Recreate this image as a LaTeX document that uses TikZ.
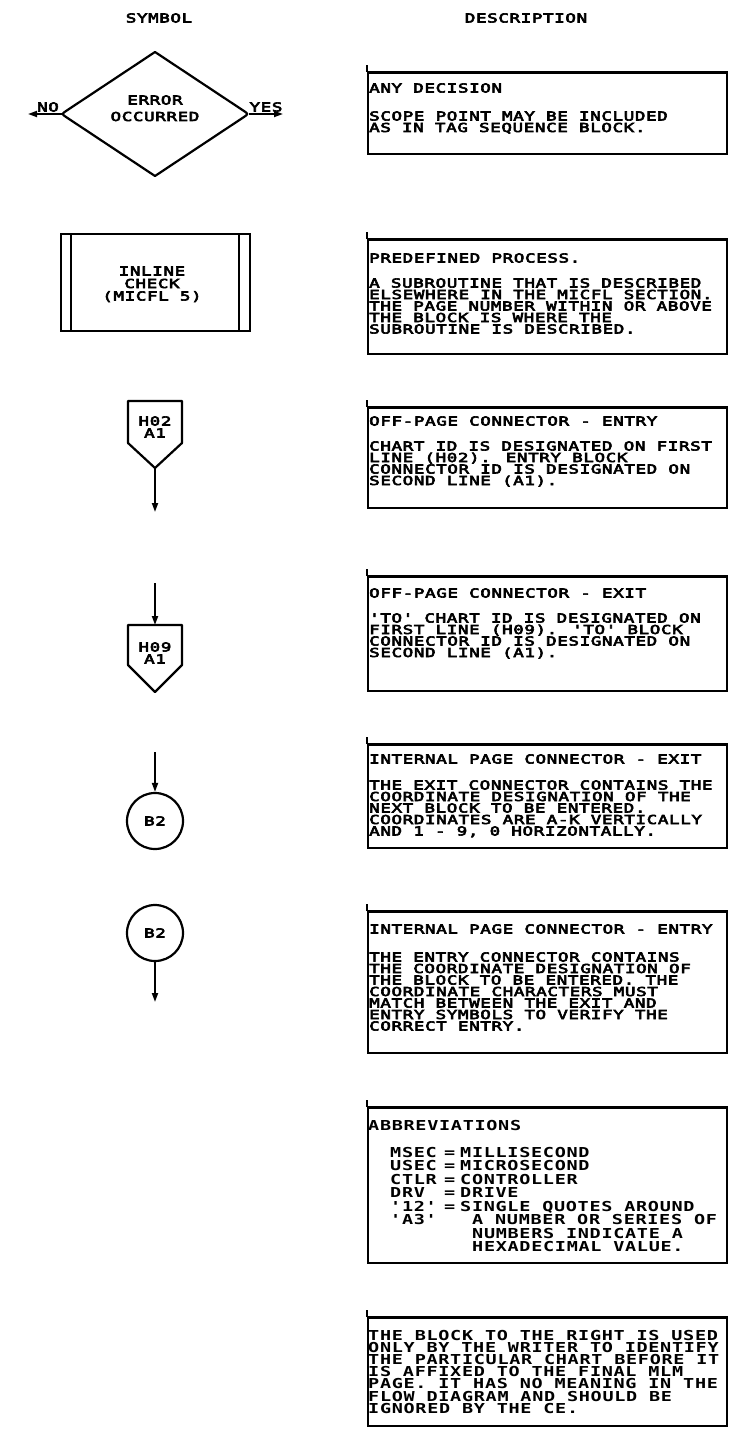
\documentclass[tikz,border=0pt]{standalone}
\usepackage{fontspec}
\usetikzlibrary{arrows.meta,shapes.geometric}
% fixed-pitch lettering, widened to the chart's letter pitch
\newfontfamily\chartfont{DejaVu Sans Mono}[FakeStretch=1.42, LetterSpace=5, FakeBold=5]
\newfontfamily\notefont{DejaVu Sans Mono}[FakeStretch=1.35, LetterSpace=5]

\tikzset{
  lbl/.style={font=\chartfont\fontsize{12.35pt}{13pt}\selectfont, inner sep=0pt, anchor=base},
  txt/.style={lbl, anchor=base west},
  note/.style={font=\notefont\bfseries\fontsize{13.7pt}{14pt}\selectfont, inner sep=0pt, anchor=base west},
  sym/.style={draw, line width=2.2pt},
  flow/.style={line width=1.8pt, -{Triangle[length=9pt,width=6pt]}},
  frame/.style={draw, line width=1.8pt, rectangle, inner sep=0pt, minimum width=359pt, anchor=north west},
  topbar/.style={line width=2.6pt},
}

% one line of description text, given by its baseline
\newcommand\dline[3]{\node[txt] (#1) at (369,#2) {#3};}
\newcommand\nline[3]{\node[note] (#1) at (368,#2) {#3};}
% a description frame: name, top, height
\newcommand\dframe[3]{%
  \node[frame, minimum height=#3pt] (#1) at (367,#2) {};
  \draw[topbar] (#1.north west) -- (#1.north east);
  \draw[line width=1.8pt] (#1.north west) -- ++(0,-7);
}

\begin{document}
\begin{tikzpicture}[x=1pt,y=-1pt]
\useasboundingbox[fill=white] (0,0) rectangle (735,1434);

% column headings
\node[lbl] (hsym) at (159,22.5) {SYMBOL};
\node[lbl] (hdesc) at (526,22.5) {DESCRIPTION};

% ---------------- decision ----------------
% the node gives the anchors; the outline has rounded side corners only
\node[diamond, aspect=1.5, inner sep=0pt, outer sep=0pt, minimum width=187pt, minimum height=124pt] (dec) at (155,114) {};
\draw[sym, line join=round] (dec.north) -- ([xshift=-5pt,yshift=3.3pt]dec.east)
  .. controls (dec.east) .. ([xshift=-5pt,yshift=-3.3pt]dec.east) -- (dec.south)
  -- ([xshift=5pt,yshift=-3.3pt]dec.west)
  .. controls (dec.west) .. ([xshift=5pt,yshift=3.3pt]dec.west) -- cycle;
\node[lbl] (dect1) at (155,104.5) {ERROR};
\node[lbl] (dect2) at (155,121) {OCCURRED};
\coordinate (noend) at (28,114);
\coordinate (yesend) at (283,114);
\draw[flow] (dec.west) -- (noend);
\draw[flow] (dec.east) -- (yesend);
\node[lbl] (no) at (48,111.5) {NO};
\node[lbl] (yes) at (266,111.5) {YES};

\dframe{b1}{72}{81}
\dline{b1h}{92.5}{ANY DECISION}
\dline{b1a}{120.5}{SCOPE POINT MAY BE INCLUDED}
\dline{b1b}{132}{AS IN TAG SEQUENCE BLOCK.}

% ---------------- predefined process ----------------
\node[sym, rectangle, inner sep=0pt, minimum width=189pt, minimum height=97pt, anchor=north west] (pp) at (60,233) {};
\draw[sym] ([xshift=11pt]pp.north west) -- ([xshift=11pt]pp.south west);
\draw[sym] ([xshift=-12pt]pp.north east) -- ([xshift=-12pt]pp.south east);
\node[lbl] (ppt1) at (152,275.5) {INLINE};
\node[lbl] (ppt2) at (152,288) {CHECK};
\node[lbl] (ppt3) at (152,300.5) {(MICFL 5)};

\dframe{b2}{239}{114}
\dline{b2h}{262.5}{PREDEFINED PROCESS.}
\dline{b2a}{287.5}{A SUBROUTINE THAT IS DESCRIBED}
\dline{b2b}{299}{ELSEWHERE IN THE MICFL SECTION.}
\dline{b2c}{310.5}{THE PAGE NUMBER WITHIN OR ABOVE}
\dline{b2d}{322}{THE BLOCK IS WHERE THE}
\dline{b2e}{333.5}{SUBROUTINE IS DESCRIBED.}

% ---------------- off-page connector, entry ----------------
\draw[sym, line join=round] (128,401) -- (182,401) -- (182,443) -- (155,468) -- (128,443) -- cycle;
\coordinate (opin) at (155,468);
\coordinate (opinend) at (155,512);
\node[lbl] (opin1) at (155,425.5) {H02};
\node[lbl] (opin2) at (155,437.5) {A1};
\draw[flow] (opin) -- (opinend);

\dframe{b3}{407}{100}
\dline{b3h}{425.5}{OFF-PAGE CONNECTOR - ENTRY}
\dline{b3a}{450.5}{CHART ID IS DESIGNATED ON FIRST}
\dline{b3b}{462}{LINE (H02). ENTRY BLOCK}
\dline{b3c}{473.5}{CONNECTOR ID IS DESIGNATED ON}
\dline{b3d}{485}{SECOND LINE (A1).}

% ---------------- off-page connector, exit ----------------
\draw[sym, line join=round] (128,625) -- (182,625) -- (182,665) -- (155,692) -- (128,665) -- cycle;
\coordinate (opout) at (155,625);
\coordinate (opoutstart) at (155,583);
\node[lbl] (opout1) at (155,651.5) {H09};
\node[lbl] (opout2) at (155,663.5) {A1};
\draw[flow] (opoutstart) -- (opout);

\dframe{b4}{576}{114}
\dline{b4h}{597.5}{OFF-PAGE CONNECTOR - EXIT}
\dline{b4a}{622.5}{'TO' CHART ID IS DESIGNATED ON}
\dline{b4b}{634}{FIRST LINE (H09). 'TO' BLOCK}
\dline{b4c}{645.5}{CONNECTOR ID IS DESIGNATED ON}
\dline{b4d}{657}{SECOND LINE (A1).}

% ---------------- internal page connector, exit ----------------
\node[sym, circle, inner sep=0pt, minimum size=56pt] (cx) at (155,821) {};
\node[lbl] (cxt) at (155,825.5) {B2};
\coordinate (cxstart) at (155,752);
\draw[flow] (cxstart) -- (cx.north);

\dframe{b5}{744}{103}
\dline{b5h}{763.5}{INTERNAL PAGE CONNECTOR - EXIT}
\dline{b5a}{789.5}{THE EXIT CONNECTOR CONTAINS THE}
\dline{b5b}{801}{COORDINATE DESIGNATION OF THE}
\dline{b5c}{812.5}{NEXT BLOCK TO BE ENTERED.}
\dline{b5d}{824}{COORDINATES ARE A-K VERTICALLY}
\dline{b5e}{835.5}{AND 1 - 9, 0 HORIZONTALLY.}

% ---------------- internal page connector, entry ----------------
\node[sym, circle, inner sep=0pt, minimum size=56pt] (ce) at (155,933) {};
\node[lbl] (cet) at (155,937.5) {B2};
\coordinate (ceend) at (155,1002);
\draw[flow] (ce.south) -- (ceend);

\dframe{b6}{911}{141}
\dline{b6h}{933.5}{INTERNAL PAGE CONNECTOR - ENTRY}
\dline{b6a}{961.5}{THE ENTRY CONNECTOR CONTAINS}
\dline{b6b}{973}{THE COORDINATE DESIGNATION OF}
\dline{b6c}{984.5}{THE BLOCK TO BE ENTERED. THE}
\dline{b6d}{996}{COORDINATE CHARACTERS MUST}
\dline{b6e}{1007.5}{MATCH BETWEEN THE EXIT AND}
\dline{b6f}{1019}{ENTRY SYMBOLS TO VERIFY THE}
\dline{b6g}{1030.5}{CORRECT ENTRY.}

% ---------------- abbreviations ----------------
\dframe{b7}{1107}{155}
\nline{b7h}{1130}{ABBREVIATIONS}
\node[note] (ab1) at (390,1157) {MSEC};
\node[note] (ab2) at (390,1170.5) {USEC};
\node[note] (ab3) at (390,1184) {CTLR};
\node[note] (ab4) at (390,1197.5) {DRV};
\node[note] (ab5) at (390,1211) {'12'};
\node[note] (ab6) at (390,1224.5) {'A3'};
\node[note] (eq1) at (444,1157) {=};
\node[note] (eq2) at (444,1170.5) {=};
\node[note] (eq3) at (444,1184) {=};
\node[note] (eq4) at (444,1197.5) {=};
\node[note] (eq5) at (444,1211) {=};
\node[note] (mn1) at (460,1157) {MILLISECOND};
\node[note] (mn2) at (460,1170.5) {MICROSECOND};
\node[note] (mn3) at (460,1184) {CONTROLLER};
\node[note] (mn4) at (460,1197.5) {DRIVE};
\node[note] (mn5) at (460,1211) {SINGLE QUOTES AROUND};
\node[note] (mn6) at (472,1224.5) {A NUMBER OR SERIES OF};
\node[note] (mn7) at (472,1238) {NUMBERS INDICATE A};
\node[note] (mn8) at (472,1251.5) {HEXADECIMAL VALUE.};

% ---------------- writer's note ----------------
\dframe{b8}{1317}{108}
\nline{b8a}{1340}{THE BLOCK TO THE RIGHT IS USED}
\nline{b8b}{1352.2}{ONLY BY THE WRITER TO IDENTIFY}
\nline{b8c}{1364.4}{THE PARTICULAR CHART BEFORE IT}
\nline{b8d}{1376.6}{IS AFFIXED TO THE FINAL MLM}
\nline{b8e}{1388.8}{PAGE. IT HAS NO MEANING IN THE}
\nline{b8f}{1401}{FLOW DIAGRAM AND SHOULD BE}
\nline{b8g}{1413.2}{IGNORED BY THE CE.}
\end{tikzpicture}
\end{document}
